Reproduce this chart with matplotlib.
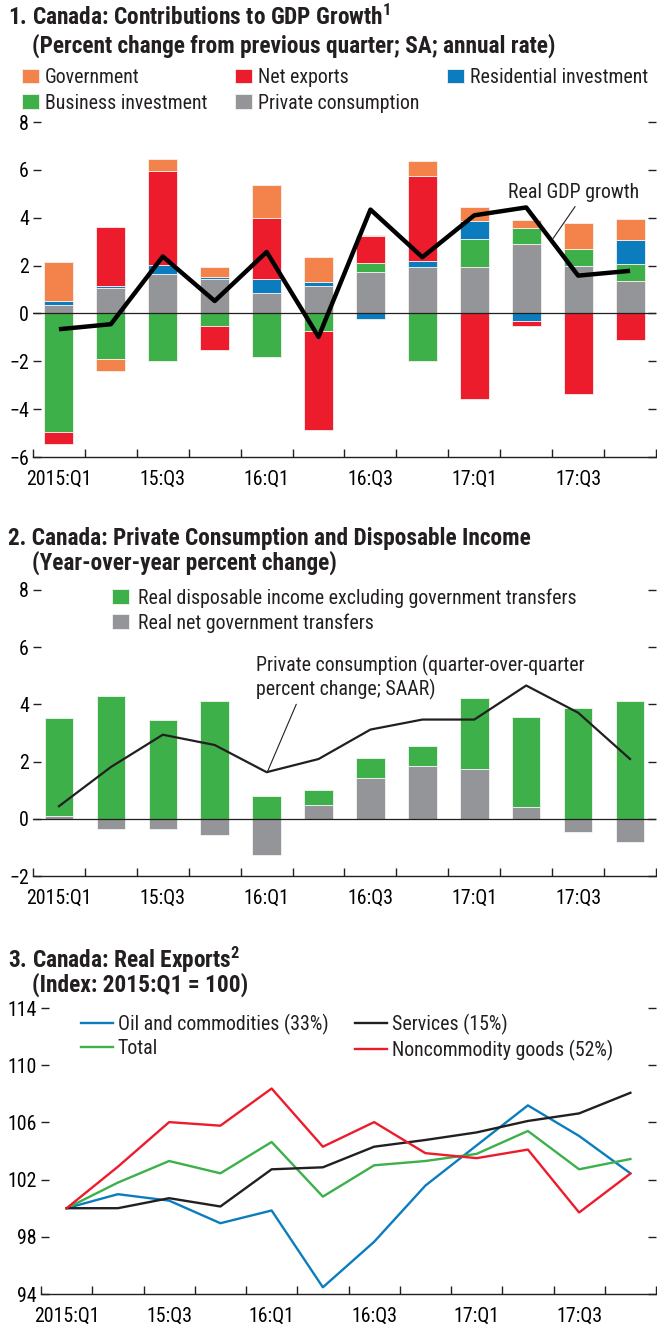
import numpy as np
import matplotlib.pyplot as plt

plt.rcParams['font.family'] = ['Roboto Condensed', 'DejaVu Sans']
plt.rcParams['mathtext.fontset'] = 'custom'
plt.rcParams['mathtext.rm'] = 'Roboto Condensed:bold'
plt.rcParams['mathtext.bf'] = 'Roboto Condensed:bold'
plt.rcParams['text.color'] = '#231F20'

# quarters 2015:Q1 .. 2017:Q4
quarters = ['2015:Q1', '15:Q2', '15:Q3', '15:Q4', '16:Q1', '16:Q2',
            '16:Q3', '16:Q4', '17:Q1', '17:Q2', '17:Q3', '17:Q4']
tick_labels = ['2015:Q1', '15:Q3', '16:Q1', '16:Q3', '17:Q1', '17:Q3']

# panel 1: contributions to GDP growth
private_consumption = [0.35, 1.05, 1.64, 1.44, 0.85, 1.15, 1.72, 1.94, 1.94, 2.91, 2.00, 1.34]
business_investment = [-4.97, -1.92, -2.00, -0.53, -1.82, -0.73, 0.39, -2.00, 1.18, 0.68, 0.71, 0.74]
residential_investment = [0.18, 0.11, 0.37, 0.10, 0.58, 0.18, -0.24, 0.27, 0.73, -0.32, 0.00, 0.97]
net_exports = [-0.48, 2.44, 3.93, -0.98, 2.54, -4.14, 1.11, 3.55, -3.57, -0.21, -3.38, -1.12]
government = [1.60, -0.48, 0.52, 0.39, 1.39, 1.01, 0.07, 0.60, 0.58, 0.33, 1.08, 0.91]
real_gdp_growth = [-0.66, -0.45, 2.38, 0.52, 2.57, -0.98, 4.34, 2.35, 4.10, 4.43, 1.58, 1.78]

# panel 2: consumption and disposable income
income_ex_transfers = [3.42, 4.29, 3.45, 4.12, 0.78, 0.52, 0.70, 0.70, 2.50, 3.14, 3.87, 4.12]
net_transfers = [0.09, -0.34, -0.34, -0.58, -1.28, 0.50, 1.44, 1.86, 1.73, 0.43, -0.45, -0.81]
consumption_qoq = [0.44, 1.81, 2.94, 2.58, 1.63, 2.09, 3.12, 3.47, 3.47, 4.66, 3.71, 2.09]

# panel 3: real exports index
oil_commodities = [100.0, 100.98, 100.53, 98.95, 99.84, 94.47, 97.65, 101.58, 104.39, 107.19, 105.05, 102.44]
services = [100.0, 100.0, 100.70, 100.12, 102.72, 102.86, 104.30, 104.77, 105.30, 106.10, 106.63, 108.07]
total = [100.0, 101.79, 103.30, 102.44, 104.63, 100.81, 103.00, 103.30, 103.80, 105.40, 102.72, 103.44]
noncommodity = [100.0, 102.90, 106.02, 105.77, 108.37, 104.30, 106.02, 103.85, 103.50, 104.10, 99.70, 102.42]

ORANGE = '#F4824B'
RED = '#EC1C2D'
BLUE = '#0B7DBF'
GREEN = '#3DB04A'
GRAY = '#939598'
BLACK = '#231F20'

FS = 14.3
TFS = 16.8
x = np.arange(len(quarters))


def style_axis(ax, ylim, yticks):
    ax.set_xlim(-0.5, 11.5)
    ax.set_ylim(*ylim)
    for s in ['left', 'right', 'top']:
        ax.spines[s].set_visible(False)
    ax.spines['bottom'].set_color(BLACK)
    ax.spines['bottom'].set_linewidth(1.0)
    ax.set_xticks(np.arange(-0.5, 12, 1))
    ax.set_xticklabels([])
    ax.set_xticks(np.arange(0, 12, 2), minor=True)
    ax.set_xticklabels(tick_labels, minor=True, fontsize=FS)
    ax.tick_params(axis='x', which='major', direction='in', length=6, width=1, color=BLACK)
    ax.tick_params(axis='x', which='minor', length=0, pad=9.5)
    ax.set_yticks(yticks)
    ax.tick_params(axis='y', direction='in', length=6, width=1, color=BLACK,
                   left=True, right=True, labelsize=FS, pad=3)


fig = plt.figure(figsize=(6.57, 13.3), dpi=100)

# ---------- panel 1 ----------
ax1 = fig.add_axes([33/657, 1-457/1330, 623/657, 335/1330])
style_axis(ax1, (-6, 8), np.arange(-6, 9, 2))
series = [(private_consumption, GRAY, 'Private consumption'),
          (business_investment, GREEN, 'Business investment'),
          (residential_investment, BLUE, 'Residential investment'),
          (net_exports, RED, 'Net exports'),
          (government, ORANGE, 'Government')]
pos = np.zeros(len(x))
neg = np.zeros(len(x))
handles = {}
for vals, col, lab in series:
    v = np.array(vals)
    bottom = np.where(v >= 0, pos, neg)
    handles[lab] = ax1.bar(x, v, 0.56, bottom=bottom, color=col,
                           edgecolor='#f7f0ee', linewidth=0.6, label=lab, zorder=2)
    pos = pos + np.clip(v, 0, None)
    neg = neg + np.clip(v, None, 0)
ax1.axhline(0, color=BLACK, lw=0.9, zorder=3)
ax1.plot(x, real_gdp_growth, color='black', lw=3.2, zorder=4, solid_capstyle='butt')
ax1.text(8.65, 5.04, 'Real GDP growth', fontsize=FS, va='center', ha='left')
ax1.plot([9.94, 9.52], [4.46, 3.14], color=BLACK, lw=0.8, zorder=5)
order = ['Government', 'Business investment', 'Net exports', 'Private consumption',
         'Residential investment']
fig.legend([handles[k] for k in order], order, ncol=3, loc='upper left',
           bbox_to_anchor=(22/657, 1-68/1330), frameon=False, fontsize=FS,
           handlelength=0.85, handleheight=0.75, handletextpad=0.3,
           columnspacing=1.4, labelspacing=0.33, borderpad=0, borderaxespad=0)
fig.text(8/657, 1-17/1330, r'1. Canada: Contributions to GDP Growth$^{1}$',
         fontsize=TFS, fontweight='bold', va='center')
fig.text(32/657, 1-46/1330, '(Percent change from previous quarter; SA; annual rate)',
         fontsize=TFS, fontweight='bold', va='center')

# ---------- panel 2 ----------
ax2 = fig.add_axes([33/657, 1-876/1330, 623/657, 286/1330])
style_axis(ax2, (-2, 8), np.arange(-2, 9, 2))
tr = np.array(net_transfers)
b_tr = ax2.bar(x, tr, 0.55, color=GRAY, edgecolor='#f4f4f4', linewidth=0.6, zorder=2)
b_inc = ax2.bar(x, income_ex_transfers, 0.55, bottom=np.clip(tr, 0, None), color=GREEN,
                edgecolor='#f4f4f4', linewidth=0.6, zorder=2)
ax2.axhline(0, color=BLACK, lw=0.9, zorder=3)
ax2.plot(x, consumption_qoq, color=BLACK, lw=1.6, zorder=4)
ax2.text(3.8, 4.94, 'Private consumption (quarter-over-quarter\npercent change; SAAR)',
         fontsize=FS, va='center', ha='left', linespacing=1.15)
ax2.plot([4.57, 4.01], [4.0, 1.62], color=BLACK, lw=0.8, zorder=5)
ax2.legend([b_inc, b_tr], ['Real disposable income excluding government transfers',
                           'Real net government transfers'],
           loc='upper left', bbox_to_anchor=(112/657, 1-588/1330),
           bbox_transform=fig.transFigure, frameon=False, fontsize=FS,
           handlelength=0.85, handleheight=0.75, handletextpad=0.45,
           labelspacing=0.28, borderpad=0, borderaxespad=0)
fig.text(8/657, 1-538/1330, '2. Canada: Private Consumption and Disposable Income',
         fontsize=TFS, fontweight='bold', va='center')
fig.text(32/657, 1-563/1330, '(Year-over-year percent change)',
         fontsize=TFS, fontweight='bold', va='center')

# ---------- panel 3 ----------
ax3 = fig.add_axes([41/657, 1-1294/1330, 615/657, 286/1330])
style_axis(ax3, (94, 114), np.arange(94, 115, 4))
l_oil, = ax3.plot(x, oil_commodities, color=BLUE, lw=1.7, label='Oil and commodities (33%)')
l_tot, = ax3.plot(x, total, color=GREEN, lw=1.7, label='Total')
l_srv, = ax3.plot(x, services, color=BLACK, lw=1.7, label='Services (15%)')
l_non, = ax3.plot(x, noncommodity, color=RED, lw=1.7, label='Noncommodity goods (52%)')
ax3.legend([l_oil, l_tot, l_srv, l_non],
           ['Oil and commodities (33%)', 'Total', 'Services (15%)', 'Noncommodity goods (52%)'],
           ncol=2, loc='upper left', bbox_to_anchor=(81/657, 1-1014/1330),
           bbox_transform=fig.transFigure, frameon=False, fontsize=FS,
           handlelength=1.6, handletextpad=0.25, columnspacing=1.35,
           labelspacing=0.22, borderpad=0, borderaxespad=0)
fig.text(8/657, 1-960/1330, r'3. Canada: Real Exports$^{2}$',
         fontsize=TFS, fontweight='bold', va='center')
fig.text(32/657, 1-985/1330, '(Index: 2015:Q1 = 100)',
         fontsize=TFS, fontweight='bold', va='center')

fig.savefig('out.png', dpi=100)
